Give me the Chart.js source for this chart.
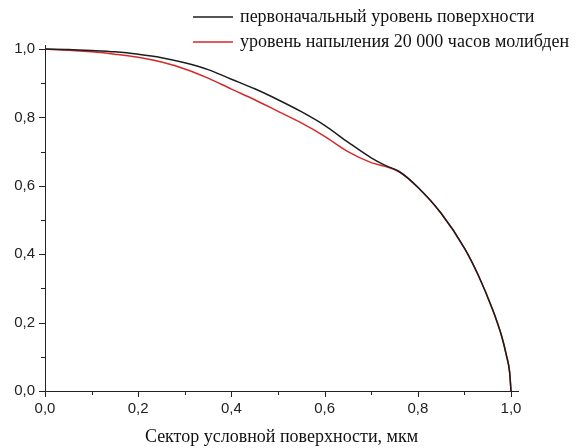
<!DOCTYPE html>
<html>
<head>
<meta charset="utf-8">
<script src="https://cdn.jsdelivr.net/npm/chart.js@4.4.0/dist/chart.umd.min.js"></script>
<style>
    html, body { margin: 0; padding: 0; background: #fff; }
    #wrap { width: 583px; height: 448px; }
</style>
</head>
<body>
<div id="wrap"><canvas id="chartSector"></canvas></div>
<script>
// Данные
const sector = [0, 0.05, 0.1, 0.15, 0.2, 0.25, 0.3, 0.35, 0.4, 0.45, 0.5, 0.55, 0.6, 0.65, 0.7, 0.73, 0.76,
    0.8, 0.85, 0.9, 0.93, 0.96, 0.98, 0.99, 0.997, 1.0];
const initialLevel = [1.0, 0.999, 0.996, 0.992, 0.985, 0.975, 0.96, 0.94, 0.912, 0.884, 0.852, 0.817, 0.777, 0.728, 0.682, 0.660, 0.642,
    0.596, 0.52, 0.418, 0.338, 0.24, 0.16, 0.105, 0.055, 0];
const sprayLevel = [1.0, 0.997, 0.992, 0.985, 0.976, 0.962, 0.942, 0.915, 0.883, 0.852, 0.818, 0.784, 0.745, 0.700, 0.668, 0.657, 0.641,
    0.596, 0.52, 0.418, 0.338, 0.24, 0.16, 0.105, 0.055, 0];
const seriesLabels = ['первоначальный уровень поверхности', 'уровень напыления 20 000 часов молибден'];
const tickValues = [0, 0.1, 0.2, 0.3, 0.4, 0.5, 0.6, 0.7, 0.8, 0.9, 1.0];
const tickLabels = ['0,0', '', '0,2', '', '0,4', '', '0,6', '', '0,8', '', '1,0'];
const axisTitle = 'Сектор условной поверхности, мкм';

const toPoints = arr => sector.map((x, i) => ({ x: x, y: arr[i] }));

const serifFont = '"Liberation Serif", "Times New Roman", serif';

// Засечки осей и легенда
const axisDecor = {
    id: 'axisDecor',
    afterDraw(chart) {
        const { ctx, chartArea, scales: { x, y } } = chart;
        ctx.save();
        ctx.strokeStyle = '#222';
        ctx.lineWidth = 1;
        tickValues.forEach((v, i) => {
            const len = i % 2 === 0 ? 6 : 4;
            const px = Math.round(x.getPixelForValue(v)) + 0.5;
            ctx.beginPath();
            ctx.moveTo(px, chartArea.bottom);
            ctx.lineTo(px, chartArea.bottom + len);
            ctx.stroke();
            const py = Math.round(y.getPixelForValue(v)) + 0.5;
            ctx.beginPath();
            ctx.moveTo(chartArea.left, py);
            ctx.lineTo(chartArea.left - len, py);
            ctx.stroke();
        });

        ctx.font = '18px ' + serifFont;
        ctx.textBaseline = 'middle';
        chart.data.datasets.forEach((ds, i) => {
            const ly = 17 + i * 25;
            ctx.strokeStyle = ds.borderColor;
            ctx.lineWidth = 1.5;
            ctx.beginPath();
            ctx.moveTo(193, ly);
            ctx.lineTo(233, ly);
            ctx.stroke();
            ctx.fillStyle = '#111';
            ctx.fillText(ds.label, 240, ly);
        });
        ctx.restore();
    }
};

const tickFont = { family: '"Liberation Sans", Arial, sans-serif', size: 15 };

new Chart(document.getElementById('chartSector'), {
    type: 'scatter',
    data: {
        datasets: [
            {
                label: seriesLabels[0],
                data: toPoints(initialLevel),
                borderColor: '#1c1c1c',
                borderWidth: 1.5,
                showLine: true,
                pointRadius: 0,
                cubicInterpolationMode: 'monotone'
            },
            {
                label: seriesLabels[1],
                data: toPoints(sprayLevel),
                borderColor: '#d42a2a',
                borderWidth: 1.5,
                showLine: true,
                pointRadius: 0,
                cubicInterpolationMode: 'monotone'
            }
        ]
    },
    options: {
        responsive: true,
        maintainAspectRatio: false,
        animation: false,
        layout: { padding: { top: 45, right: 65, left: 0, bottom: 0 } },
        plugins: {
            legend: { display: false },
            tooltip: { enabled: false }
        },
        scales: {
            x: {
                type: 'linear',
                min: 0,
                max: 1.015,
                afterBuildTicks: s => { s.ticks = tickValues.map(v => ({ value: v })); },
                afterFit: s => { s.height = 57; },
                grid: { display: false },
                border: { color: '#222', width: 1 },
                ticks: {
                    autoSkip: false,
                    maxRotation: 0,
                    color: '#222',
                    font: tickFont,
                    padding: 1,
                    callback: (v, i) => tickLabels[i]
                },
                title: {
                    display: true,
                    text: axisTitle,
                    color: '#111',
                    font: { family: serifFont, size: 18 },
                    padding: { top: 4, bottom: 0 }
                }
            },
            y: {
                type: 'linear',
                min: 0,
                max: 1.012,
                afterBuildTicks: s => { s.ticks = tickValues.map(v => ({ value: v })); },
                afterFit: s => { s.width = 45; },
                grid: { display: false },
                border: { color: '#222', width: 1 },
                ticks: {
                    autoSkip: false,
                    color: '#222',
                    font: tickFont,
                    padding: 2,
                    callback: (v, i) => tickLabels[i]
                }
            }
        }
    },
    plugins: [axisDecor]
});
</script>
</body>
</html>
